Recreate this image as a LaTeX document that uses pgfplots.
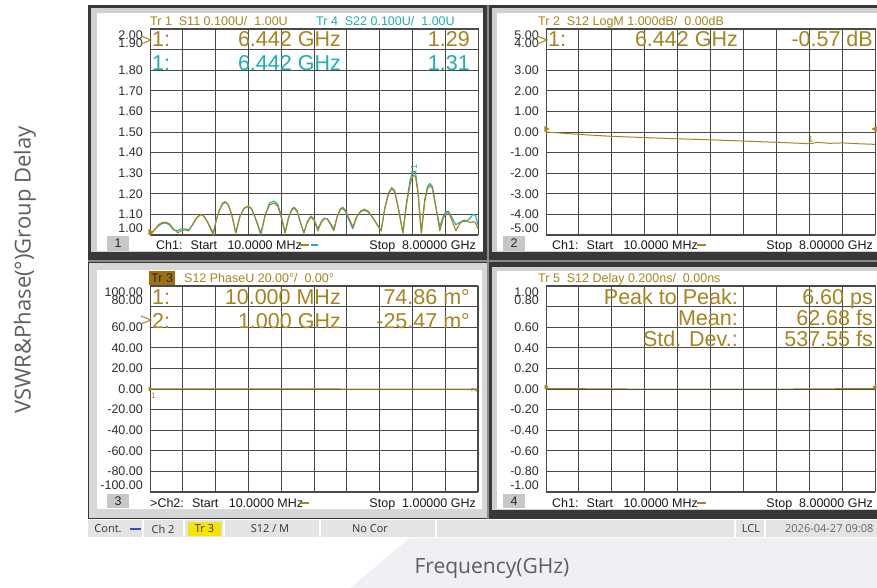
\documentclass[border=0pt]{standalone}
\usepackage{pgfplots}
\pgfplotsset{compat=1.18}
\usepackage{fontspec}
\setmainfont{Liberation Sans}
\newfontfamily\uifont{Open Sans}

\definecolor{trA}{HTML}{A8841E}
\definecolor{trB}{HTML}{1EAFB0}
\definecolor{screen}{HTML}{383838}
\definecolor{gridc}{HTML}{4A4A4A}
\definecolor{bevel}{HTML}{D0D0D0}
\definecolor{labgray}{HTML}{5E5E5E}
\definecolor{pale}{HTML}{EEF0F3}
\definecolor{statusbg}{HTML}{E4E4E4}
\definecolor{tickc}{HTML}{2E2E2E}
\definecolor{activetr}{HTML}{A0700C}
\definecolor{markblue}{HTML}{2F4FC8}
\definecolor{hiyellow}{HTML}{F4E600}

\newcommand\fs[1]{\fontsize{#1}{#1}\selectfont}
% crowded end labels: shift the printed text up or down without moving the tick
\newcommand\lo[1]{\smash{\raisebox{-10.5pt}{#1}}}
\newcommand\hi[1]{\smash{\raisebox{2.5pt}{#1}}}

\pgfplotsset{
  vna/.style={
    scale only axis, width=328pt, height=206pt, anchor=south west,
    axis line style={draw=gridc, line width=1pt},
    grid=major, grid style={draw=gridc, line width=0.9pt},
    major tick length=0pt, xticklabels={},
    yticklabel style={inner sep=0pt, xshift=-7pt, font=\fs{12.5}, text=tickc},
    clip=false,
  },
  xt8/.style={xmin=0.01, xmax=8,
    xtick={0.01,0.809,1.608,2.407,3.206,4.005,4.804,5.603,6.402,7.201,8.0}},
  trace/.style={line width=1.1pt, mark=none, line join=round},
  reflevel/.style={only marks, mark=triangle*, mark size=3pt},
}

\begin{document}
\begin{tikzpicture}[x=1pt, y=1pt]
\useasboundingbox (0,0) rectangle (877,588);
% page and surroundings
\fill[white] (0,0) rectangle (877,588);
\fill[pale] (410,50) -- (877,50) -- (877,0) -- (350,0) -- cycle;

% instrument screen
\fill[screen] (88,69) rectangle (877,583);
\draw[black!45, line width=2pt] (488,69) -- (488,583);
\draw[black!45, line width=2pt] (88,327) -- (877,327);

% panel backgrounds
\fill[bevel] (91,336) rectangle (483,580);
\fill[white] (97,337) rectangle (483,575);
\fill[bevel] (492,336) rectangle (877,580);
\fill[white] (497,337) rectangle (877,575);
\fill[bevel!85] (89,70) rectangle (487,325);
\fill[white] (97,79) rectangle (482,318);
\fill[bevel] (492,78) rectangle (877,321);
\fill[white] (497,79) rectangle (877,317);

% ---------------- panel 1: VSWR S11 / S22 ----------------
\begin{axis}[vna, xt8, at={(150pt,353pt)},
  ymin=1, ymax=2,
  ytick={1.0,1.1,1.2,1.3,1.4,1.5,1.6,1.7,1.8,1.9,2.0},
  yticklabels={\hi{1.00},1.10,1.20,1.30,1.40,1.50,1.60,1.70,1.80,\hi{1.90},\lo{2.00}}]
% S22
\addplot[trace, trB] coordinates {
(0.01,1.00) (0.12,1.025) (0.22,1.045) (0.30,1.055) (0.40,1.058) (0.48,1.05)
(0.58,1.025) (0.69,1.02) (0.76,1.03) (0.85,1.03) (0.95,1.025) (1.05,1.05)
(1.15,1.085) (1.25,1.10) (1.33,1.09) (1.42,1.06) (1.55,1.01) (1.62,1.07)
(1.70,1.12) (1.78,1.155) (1.84,1.162) (1.91,1.15) (2.00,1.10) (2.10,1.01)
(2.20,1.09) (2.30,1.128) (2.40,1.138) (2.48,1.128) (2.58,1.08) (2.71,1.00)
(2.82,1.10) (2.92,1.155) (3.03,1.165) (3.12,1.15) (3.20,1.10) (3.30,1.01)
(3.38,1.08) (3.46,1.12) (3.52,1.13) (3.59,1.115) (3.66,1.07) (3.76,1.01)
(3.84,1.065) (3.93,1.092) (4.01,1.075) (4.10,1.03) (4.18,1.065) (4.26,1.082)
(4.33,1.078) (4.41,1.055) (4.49,1.03) (4.57,1.09) (4.64,1.12) (4.70,1.13)
(4.77,1.115) (4.86,1.07) (4.95,1.03) (5.05,1.09) (5.15,1.115) (5.24,1.12)
(5.33,1.11) (5.45,1.08) (5.64,1.02) (5.73,1.13) (5.82,1.205) (5.90,1.23)
(5.97,1.215) (6.06,1.13) (6.17,1.01) (6.26,1.16) (6.35,1.27) (6.41,1.305)
(6.442,1.31) (6.48,1.30) (6.54,1.21) (6.62,1.01) (6.70,1.17) (6.77,1.235)
(6.83,1.25) (6.89,1.235) (6.97,1.14) (7.07,1.04) (7.15,1.09) (7.22,1.112)
(7.28,1.115) (7.35,1.09) (7.46,1.05) (7.54,1.06) (7.62,1.065) (7.70,1.065)
(7.80,1.08) (7.88,1.10) (7.94,1.095) (8.00,1.05)};
% S11
\addplot[trace, trA] coordinates {
(0.01,1.00) (0.12,1.025) (0.22,1.05) (0.30,1.06) (0.40,1.062) (0.48,1.055)
(0.58,1.03) (0.69,1.01) (0.76,1.02) (0.85,1.025) (0.95,1.02) (1.05,1.05)
(1.15,1.085) (1.25,1.10) (1.33,1.09) (1.42,1.06) (1.55,1.00) (1.62,1.07)
(1.70,1.12) (1.78,1.15) (1.84,1.158) (1.91,1.15) (2.00,1.10) (2.10,1.01)
(2.20,1.09) (2.30,1.13) (2.40,1.14) (2.48,1.13) (2.58,1.08) (2.71,1.01)
(2.82,1.10) (2.92,1.145) (3.03,1.155) (3.12,1.14) (3.20,1.09) (3.30,1.01)
(3.38,1.08) (3.46,1.125) (3.52,1.135) (3.59,1.12) (3.66,1.07) (3.76,1.01)
(3.84,1.06) (3.93,1.088) (4.01,1.07) (4.10,1.02) (4.18,1.06) (4.26,1.08)
(4.33,1.078) (4.41,1.05) (4.49,1.02) (4.57,1.09) (4.64,1.125) (4.70,1.135)
(4.77,1.12) (4.86,1.08) (4.95,1.04) (5.05,1.09) (5.15,1.118) (5.24,1.125)
(5.33,1.115) (5.45,1.08) (5.64,1.02) (5.73,1.13) (5.82,1.20) (5.90,1.225)
(5.97,1.21) (6.06,1.13) (6.17,1.01) (6.26,1.15) (6.35,1.25) (6.41,1.285)
(6.442,1.29) (6.48,1.28) (6.54,1.20) (6.62,1.01) (6.70,1.16) (6.77,1.225)
(6.83,1.24) (6.89,1.225) (6.97,1.14) (7.07,1.02) (7.15,1.08) (7.22,1.105)
(7.28,1.11) (7.35,1.08) (7.46,1.02) (7.54,1.05) (7.62,1.07) (7.70,1.072)
(7.80,1.06) (7.88,1.065) (7.94,1.06) (8.00,1.03)};
\addplot[reflevel, trA, mark options={rotate=-90, xshift=-3pt}] coordinates {(0.01,1.0)};
\node[trB, font=\fs{9}, anchor=west, rotate=90, inner sep=1pt] at (axis cs:6.442,1.31) {1};
\node[trA, font=\fs{8}, anchor=west, rotate=90, inner sep=1pt] at (axis cs:6.43,1.29) {1};
\end{axis}

% ---------------- panel 2: S12 LogM ----------------
\begin{axis}[vna, xt8, at={(546pt,353pt)}, width=329pt,
  ymin=-5, ymax=5,
  ytick={-5,-4,-3,-2,-1,0,1,2,3,4,5},
  yticklabels={\hi{-5.00},-4.00,-3.00,-2.00,-1.00,0.00,1.00,2.00,3.00,\hi{4.00},\lo{5.00}}]
\addplot[trace, trA, line width=1pt] coordinates {
(0.01,0.00) (0.5,-0.07) (1.0,-0.14) (1.6,-0.21) (2.4,-0.27) (3.2,-0.33)
(4.0,-0.38) (4.8,-0.44) (5.6,-0.50) (6.2,-0.55) (6.442,-0.57) (6.6,-0.50)
(6.9,-0.55) (7.2,-0.53) (7.6,-0.57) (8.0,-0.60)};
\addplot[reflevel, trA, mark options={rotate=-90, xshift=-3pt}] coordinates {(0.01,0)};
\addplot[reflevel, trA, mark options={rotate=90, xshift=3pt}] coordinates {(8.0,0)};
\node[trA, font=\fs{9}, anchor=south, inner sep=1pt] at (axis cs:6.442,-0.57) {1};
\end{axis}

% ---------------- panel 3: S12 PhaseU ----------------
\begin{axis}[vna, at={(150pt,96pt)}, xmin=0.01, xmax=1.0,
  xtick={0.01,0.109,0.208,0.307,0.406,0.505,0.604,0.703,0.802,0.901,1.0},
  ymin=-100, ymax=100,
  ytick={-100,-80,-60,-40,-20,0,20,40,60,80,100},
  yticklabels={\hi{-100.00},-80.00,-60.00,-40.00,-20.00,0.00,20.00,40.00,60.00,\hi{80.00},\lo{100.00}}]
\addplot[trace, trA, line width=1pt] coordinates {
(0.01,0.07486) (0.25,0.02) (0.5,0.0) (0.75,-0.01) (1.0,-0.02547)};
\addplot[reflevel, trA, mark size=2.2pt, mark options={rotate=-90}] coordinates {(0.01,0)};
\node[trA, font=\fs{8}, anchor=north west, inner sep=1pt] at (axis cs:0.01,-3) {1};
\node[trA, font=\fs{8}, anchor=south east, rotate=90, inner sep=1pt] at (axis cs:1.0,2) {2};
\end{axis}

% ---------------- panel 4: S12 group delay ----------------
\begin{axis}[vna, xt8, at={(546pt,96pt)}, width=329pt,
  ymin=-1, ymax=1,
  ytick={-1,-0.8,-0.6,-0.4,-0.2,0,0.2,0.4,0.6,0.8,1},
  yticklabels={\hi{-1.00},-0.80,-0.60,-0.40,-0.20,0.00,0.20,0.40,0.60,\hi{0.80},\lo{1.00}}]
\addplot[trace, trA, line width=1pt] coordinates {
(0.01,0.0) (2.0,0.0) (4.0,0.0) (6.0,0.0) (8.0,0.0)};
\addplot[reflevel, trA, mark size=2.2pt, mark options={rotate=-90, xshift=-2pt}] coordinates {(0.01,0)};
\addplot[reflevel, trA, mark size=2.2pt, mark options={rotate=90, xshift=2pt}] coordinates {(8.0,0)};
\end{axis}

% ---------------- trace headers ----------------
\begin{scope}[font=\fs{12.5}]
\node[trA, anchor=base west, inner sep=0] at (150,562) {Tr 1 \ S11 0.100U/ \ 1.00U};
\node[trB, anchor=base west, inner sep=0] at (316,562) {Tr 4 \ S22 0.100U/ \ 1.00U};
\node[trA, anchor=base west, inner sep=0] at (538,562) {Tr 2 \ S12 LogM 1.000dB/ \ 0.00dB};
\fill[activetr] (149,303) rectangle (175,317);
\node[black!85, anchor=base west, inner sep=0] at (151,305) {Tr 3};
\node[trA, anchor=base west, inner sep=0] at (184,305) {S12 PhaseU 20.00°/ \ 0.00°};
\node[trA, anchor=base west, inner sep=0] at (538,305) {Tr 5 \ S12 Delay 0.200ns/ \ 0.00ns};
\end{scope}

% ---------------- marker readouts ----------------
\begin{scope}[font=\fs{21.5}, inner sep=0]
\node[trA, anchor=base west] at (152,541) {1:};
\node[trA, anchor=base east] at (341,541) {6.442 GHz};
\node[trA, anchor=base east] at (470,541) {1.29};
\node[trB, anchor=base west] at (152,517) {1:};
\node[trB, anchor=base east] at (341,517) {6.442 GHz};
\node[trB, anchor=base east] at (470,517) {1.31};
\node[trA, anchor=base west] at (548,541) {1:};
\node[trA, anchor=base east] at (738,541) {6.442 GHz};
\node[trA, anchor=base east] at (873,541) {-0.57 dB};
\node[trA, anchor=base west] at (152,283) {1:};
\node[trA, anchor=base east] at (341,283) {10.000 MHz};
\node[trA, anchor=base east] at (470,283) {74.86 m°};
\node[trA, anchor=base west] at (152,259) {2:};
\node[trA, anchor=base east] at (341,259) {1.000 GHz};
\node[trA, anchor=base east] at (470,259) {-25.47 m°};
\node[trA, anchor=base east] at (738,283) {Peak to Peak:};
\node[trA, anchor=base east] at (873,283) {6.60 ps};
\node[trA, anchor=base east] at (738,262) {Mean:};
\node[trA, anchor=base east] at (873,262) {62.68 fs};
\node[trA, anchor=base east] at (738,241) {Std. Dev.:};
\node[trA, anchor=base east] at (873,241) {537.55 fs};
\end{scope}
% active marker pointers
\begin{scope}[trA, line width=1pt]
\draw (141,552) -- (151,548) -- (141,544);
\draw (537,552) -- (547,548) -- (537,544);
\draw (141,272) -- (151,268) -- (141,264);
\end{scope}

% ---------------- channel footers ----------------
\begin{scope}[font=\fs{12.5}, inner sep=0]
\fill[black!22] (107,337) rectangle (129,352);
\node[black!85] at (118,344.5) {1};
\node[black!90, anchor=base west] at (156,338) {Ch1: \ Start \ \ 10.0000 MHz};
\draw[trA, line width=1.3pt] (300,343) -- (309,343);
\draw[trB, line width=1.3pt] (311,343) -- (318,343);
\node[black!90, anchor=base east] at (476,338) {Stop \ 8.00000 GHz};
\fill[black!22] (503,337) rectangle (525,352);
\node[black!85] at (514,344.5) {2};
\node[black!90, anchor=base west] at (552,338) {Ch1: \ Start \ \ 10.0000 MHz};
\draw[trA, line width=1.3pt] (697,343) -- (706,343);
\node[black!90, anchor=base east] at (873,338) {Stop \ 8.00000 GHz};
\fill[black!22] (107,80) rectangle (129,94);
\node[black!85] at (118,87) {3};
\node[black!90, anchor=base west] at (150,80) {>Ch2: \ Start \ \ 10.0000 MHz};
\draw[trA, line width=1.3pt] (300,85) -- (309,85);
\node[black!90, anchor=base east] at (476,80) {Stop \ 1.00000 GHz};
\fill[black!22] (503,80) rectangle (525,94);
\node[black!85] at (514,87) {4};
\node[black!90, anchor=base west] at (552,80) {Ch1: \ Start \ \ 10.0000 MHz};
\draw[trA, line width=1.3pt] (697,85) -- (706,85);
\node[black!90, anchor=base east] at (873,80) {Stop \ 8.00000 GHz};
\end{scope}

% ---------------- status bar ----------------
\fill[statusbg] (88,51) rectangle (877,68);
\foreach \xs in {143,184,224,320,436,735,765}
  \draw[white, line width=1.2pt] (\xs,51) -- (\xs,68);
\begin{scope}[font=\uifont\fs{11}, text=black!80]
\node at (108,59) {Cont.};
\draw[markblue, line width=1.6pt] (130,59) -- (141,59);
\node at (163,59) {Ch 2};
\fill[hiyellow] (188,52) rectangle (221,66);
\node at (204.5,59) {Tr 3};
\node at (270,59) {S12 / M};
\node at (370,59) {No Cor};
\node at (751,59) {LCL};
\node[anchor=east, text=black!60] at (877,59) {2026-04-27 09:08};
\end{scope}

% ---------------- axis titles ----------------
\node[font=\uifont\fs{22}, text=labgray, rotate=90] at (25,318) {VSWR\&Phase(°)Group Delay};
\node[font=\uifont\fs{21}, text=labgray] at (492,20) {Frequency(GHz)};
\end{tikzpicture}
\end{document}
